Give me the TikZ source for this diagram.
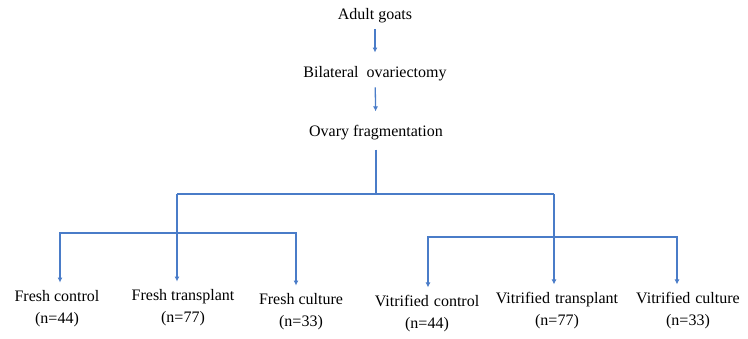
\documentclass[tikz,border=0pt]{standalone}
\usepackage{fontspec}
\setmainfont{Liberation Serif}
\usetikzlibrary{arrows.meta}
\definecolor{flowblue}{RGB}{74,124,200}
\tikzset{
  txt/.style={font=\fontsize{16}{22}\selectfont, align=center, inner sep=2pt},
  flow/.style={draw=flowblue, line width=1.3pt},
  arr/.style={flow, -{Latex[length=5pt,width=5pt]}}
}
\begin{document}
\begin{tikzpicture}[x=1pt,y=-1pt]
      \useasboundingbox (0,0) rectangle (748,338);
      \draw
        (375,16) node[txt] (goats){Adult goats}
        (375,74) node[txt] (ovariectomy){Bilateral\hspace{8pt}ovariectomy}
        (376,133) node[txt] (fragmentation){Ovary fragmentation}
        (57,309) node[txt] (fc){Fresh control\\(n=44)}
        (183,308) node[txt] (ft){Fresh transplant\\(n=77)}
        (301,312) node[txt] (fcu){Fresh culture\\(n=33)}
        (427,314) node[txt] (vc){Vitrified\hspace{5pt}control\\(n=44)}
        (557,311) node[txt] (vt){Vitrified\hspace{5pt}transplant\\(n=77)}
        (688,311) node[txt] (vcu){Vitrified\hspace{5pt}culture\\(n=33)};
      \coordinate (trunk) at (376,194);
      \coordinate (fresharm) at (177,194);
      \coordinate (vitrarm) at (554,194);
      \coordinate (freshmid) at (177,233);
      \coordinate (vitrmid) at (554,237);
      \begin{scope}[shorten >=6pt]
        \draw[arr, shorten <=4pt, shorten >=12pt] (goats) -- (ovariectomy);
        \draw[arr, shorten <=4pt, shorten >=12pt] (ovariectomy) -- (fragmentation);
        \draw[flow, shorten <=7pt, shorten >=0pt] (fragmentation) -- (trunk);
        \draw[flow, shorten >=0pt] (fresharm) -- (vitrarm);
        \draw[arr] (fresharm) -- (fresharm |- ft.north);
        \draw[arr] (vitrarm) -- (vitrarm |- vt.north);
        \draw[arr] (freshmid) -| ([xshift=3pt]fc.north);
        \draw[arr] (freshmid) -| ([xshift=-5pt]fcu.north);
        \draw[arr] (vitrmid) -| ([xshift=1pt]vc.north);
        \draw[arr] (vitrmid) -| ([xshift=-11pt]vcu.north);
      \end{scope}
    \end{tikzpicture}
\end{document}
